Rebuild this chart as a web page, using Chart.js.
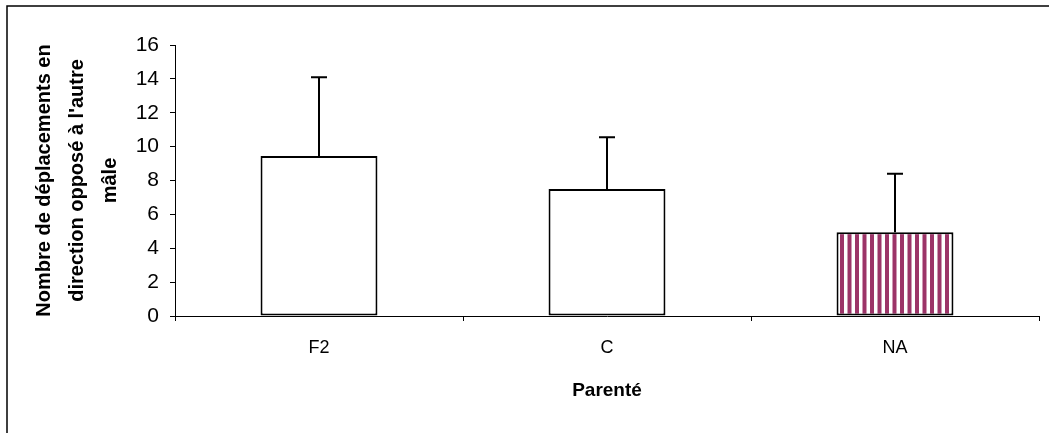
<!DOCTYPE html>
<html lang="fr">

<head>
    <meta charset="UTF-8">
    <title>Parenté</title>
    <style>
        body { margin: 0; background: #fff; }
        #wrap { width: 1049px; height: 433px; }
    </style>
</head>

<body>
    <div id="wrap">
        <canvas id="chart" width="1049" height="433"></canvas>
    </div>
    <script src="https://cdn.jsdelivr.net/npm/chart.js"></script>
    <script>
        // Data
        const categories = ['F2', 'C', 'NA'];
        const means = [9.45, 7.5, 4.95];
        const sdValues = [4.65, 3.05, 3.45];
        const yTicks = [0, 2, 4, 6, 8, 10, 12, 14, 16];

        const font = '"Liberation Sans", Arial, sans-serif';

        // vertical stripes for the last bar
        function stripes() {
            const c = document.createElement('canvas');
            c.width = 15;
            c.height = 10;
            const g = c.getContext('2d');
            g.fillStyle = '#fff';
            g.fillRect(0, 0, 15, 10);
            g.fillStyle = '#9c3468';
            g.fillRect(0, 0, 4, 10);
            g.fillRect(7.5, 0, 4, 10);
            return g.createPattern(c, 'repeat');
        }
        const fills = ['#ffffff', '#ffffff', stripes()];

        // outer frame (left and top edges only are visible)
        const frame = {
            id: 'frame',
            beforeDraw(chart) {
                const ctx = chart.ctx;
                ctx.save();
                ctx.fillStyle = '#fff';
                ctx.fillRect(0, 0, chart.width, chart.height);
                ctx.strokeStyle = '#000';
                ctx.lineWidth = 1.5;
                ctx.beginPath();
                ctx.moveTo(7, chart.height + 2);
                ctx.lineTo(7, 6);
                ctx.lineTo(chart.width + 2, 6);
                ctx.stroke();
                ctx.restore();
            }
        };

        // upper error bars
        const errorBars = {
            id: 'errorBars',
            afterDatasetsDraw(chart) {
                const ctx = chart.ctx;
                const y = chart.scales.y;
                const meta = chart.getDatasetMeta(0);
                ctx.save();
                ctx.strokeStyle = '#000';
                ctx.lineWidth = 2;
                meta.data.forEach((bar, i) => {
                    const top = y.getPixelForValue(means[i] + sdValues[i]);
                    ctx.beginPath();
                    ctx.moveTo(bar.x, bar.y);
                    ctx.lineTo(bar.x, top);
                    ctx.moveTo(bar.x - 8, top);
                    ctx.lineTo(bar.x + 8, top);
                    ctx.stroke();
                });
                ctx.restore();
            }
        };

        new Chart(document.getElementById('chart'), {
            type: 'bar',
            data: {
                labels: categories,
                datasets: [{
                    data: means,
                    backgroundColor: fills,
                    borderColor: '#000',
                    borderWidth: 2,
                    borderSkipped: false,
                    barPercentage: 0.406,
                    categoryPercentage: 1
                }]
            },
            options: {
                responsive: false,
                animation: false,
                devicePixelRatio: 1,
                layout: { padding: { left: 0, top: 45, right: 10, bottom: 0 } },
                plugins: {
                    legend: { display: false },
                    tooltip: { enabled: false }
                },
                scales: {
                    x: {
                        grid: {
                            offset: true,
                            drawOnChartArea: false,
                            color: '#000',
                            tickLength: 5
                        },
                        border: { color: '#000', width: 1 },
                        ticks: {
                            color: '#000',
                            padding: 16,
                            font: { family: font, size: 18 }
                        },
                        title: {
                            display: true,
                            text: 'Parenté',
                            color: '#000',
                            font: { family: font, size: 19, weight: 'bold' },
                            padding: { top: 0, bottom: 31 }
                        },
                        afterFit(scale) { scale.height = 117; }
                    },
                    y: {
                        min: 0,
                        max: 16,
                        afterBuildTicks(scale) {
                            scale.ticks = yTicks.map(v => ({ value: v }));
                        },
                        grid: {
                            drawOnChartArea: false,
                            color: '#000',
                            tickLength: 5
                        },
                        border: { color: '#000', width: 1 },
                        ticks: {
                            color: '#000',
                            padding: 11,
                            font: { family: font, size: 21 }
                        },
                        title: {
                            display: true,
                            text: ['Nombre de déplacements en', "direction opposé à l'autre", 'mâle'],
                            color: '#000',
                            font: { family: font, size: 20, weight: 'bold', lineHeight: 1.65 },
                            padding: { top: 28, bottom: 0 }
                        },
                        afterFit(scale) { scale.width = 175; }
                    }
                }
            },
            plugins: [frame, errorBars]
        });
    </script>
</body>

</html>
